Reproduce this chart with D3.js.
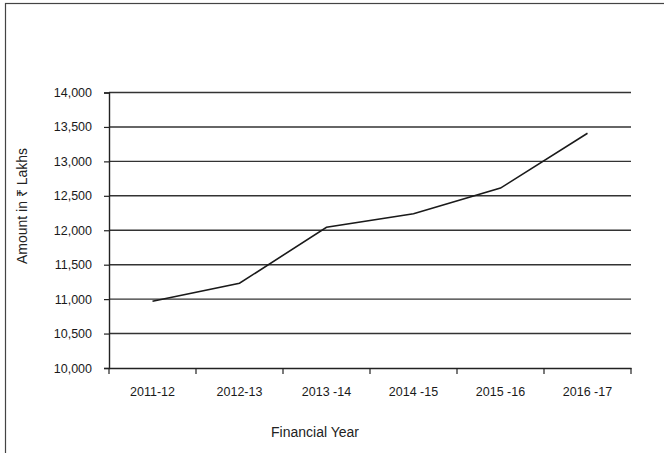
<!DOCTYPE html>
<html>
<head>
<meta charset="utf-8">
<script src="https://cdn.jsdelivr.net/npm/d3@7"></script>
<style>
  body { margin: 0; background: #fff; }
  svg text { font-family: "Liberation Sans", Arial, sans-serif; fill: #222; }
</style>
</head>
<body>
<div id="chart"></div>
<script>
const years = ['2011-12', '2012-13', '2013 -14', '2014 -15', '2015 -16', '2016 -17'];
const amounts = [10970, 11230, 12043, 12240, 12612, 13408];
const yTicks = [10000, 10500, 11000, 11500, 12000, 12500, 13000, 13500, 14000];

const W = 664, H = 453;
const margin = { top: 92.5, right: 33, bottom: 85, left: 109 },
    width = W - margin.left - margin.right,
    height = H - margin.top - margin.bottom;

const svg = d3.select('#chart')
    .append('svg')
    .attr('width', W)
    .attr('height', H);

// outer frame (cut off at right / bottom like the original)
svg.append('rect')
    .attr('x', 5.5)
    .attr('y', 3.5)
    .attr('width', W + 20)
    .attr('height', H + 20)
    .style('fill', 'none')
    .style('stroke', '#444')
    .style('stroke-width', 1.2);

const g = svg.append('g')
    .attr('transform', `translate(${margin.left},${margin.top})`);

const x = d3.scaleBand()
    .domain(years)
    .range([0, width]);

const y = d3.scaleLinear()
    .domain([10000, 14000])
    .range([height, 0]);

// gridlines
g.selectAll('.grid')
    .data(yTicks.slice(1))
    .enter()
    .append('line')
    .attr('class', 'grid')
    .attr('x1', 0)
    .attr('x2', width)
    .attr('y1', d => y(d))
    .attr('y2', d => y(d))
    .style('stroke', '#333')
    .style('stroke-width', 1.4);

// y axis
const yAxis = g.append('g')
    .call(d3.axisLeft(y).tickValues(yTicks).tickFormat(d3.format(',')).tickSize(5).tickPadding(12));
yAxis.select('.domain').style('stroke', '#222').style('stroke-width', 1.4);
yAxis.selectAll('.tick line').style('stroke', '#222').style('stroke-width', 1.2);
yAxis.selectAll('text').style('font-size', '12.5px').style('fill', '#1a1a1a');

// x axis with boundary ticks
const xAxis = g.append('g')
    .attr('transform', `translate(0,${height})`)
    .call(d3.axisBottom(x).tickSize(0).tickPadding(19));
xAxis.select('.domain').style('stroke', '#222').style('stroke-width', 1.4);
xAxis.selectAll('text').style('font-size', '12.5px').style('fill', '#1a1a1a');

xAxis.selectAll('.bound')
    .data(years.concat(['end']))
    .enter()
    .append('line')
    .attr('class', 'bound')
    .attr('x1', (d, i) => i * x.step())
    .attr('x2', (d, i) => i * x.step())
    .attr('y1', 0)
    .attr('y2', 6)
    .style('stroke', '#222')
    .style('stroke-width', 1.2);

// series line
const line = d3.line()
    .x((d, i) => x(years[i]) + x.bandwidth() / 2)
    .y(d => y(d));

g.append('path')
    .datum(amounts)
    .attr('d', line)
    .style('fill', 'none')
    .style('stroke', '#1a1a1a')
    .style('stroke-width', 1.6);

// axis titles
svg.append('text')
    .attr('x', 315)
    .attr('y', 437)
    .attr('text-anchor', 'middle')
    .style('font-size', '14px')
    .text('Financial Year');

svg.append('text')
    .attr('transform', 'translate(27,206) rotate(-90)')
    .attr('text-anchor', 'middle')
    .style('font-size', '14px')
    .text('Amount in ₹ Lakhs');
</script>
</body>
</html>
